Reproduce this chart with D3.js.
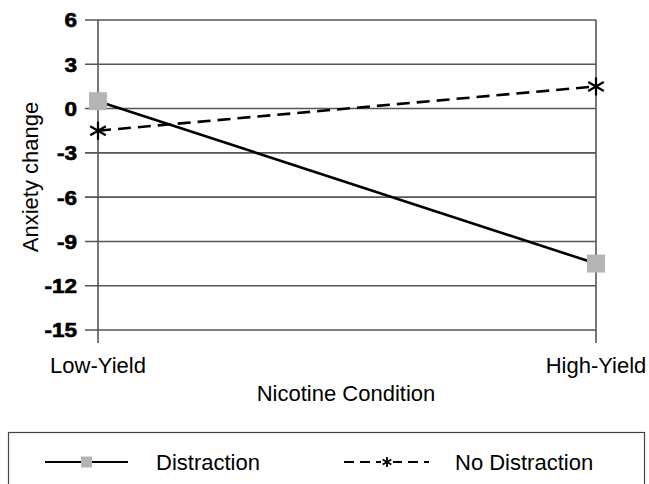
<!DOCTYPE html>
<html lang="en">
<head>
    <meta charset="UTF-8">
    <title>Anxiety change</title>
    <style>
        body {
            margin: 0;
            padding: 0;
            background-color: white;
            font-family: Arial, "Liberation Sans", sans-serif;
        }
        .grid line {
            stroke: #555;
            stroke-width: 1.6px;
        }
    </style>
</head>
<body>
    <div id="container"></div>

    <script src="https://d3js.org/d3.v7.min.js"></script>
    <script>
        // Data
        const categories = ["Low-Yield", "High-Yield"];
        const distraction = [0.5, -10.5];
        const noDistraction = [-1.5, 1.5];
        const yTicks = [6, 3, 0, -3, -6, -9, -12, -15];

        const width = 649;
        const height = 484;

        const svg = d3.select("#container")
            .append("svg")
            .attr("width", width)
            .attr("height", height)
            .style("background-color", "white");

        const x = d3.scalePoint()
            .domain(categories)
            .range([98, 596]);

        const y = d3.scaleLinear()
            .domain([-15, 6])
            .range([330, 20]);

        // Horizontal gridlines
        svg.append("g")
            .attr("class", "grid")
            .selectAll("line")
            .data(yTicks)
            .enter()
            .append("line")
            .attr("x1", 85)
            .attr("x2", x(categories[1]))
            .attr("y1", d => y(d))
            .attr("y2", d => y(d));

        // Vertical lines at category positions
        svg.append("g")
            .attr("class", "grid")
            .selectAll("line")
            .data(categories)
            .enter()
            .append("line")
            .attr("x1", d => x(d))
            .attr("x2", d => x(d))
            .attr("y1", y(6))
            .attr("y2", y(-15) + 13);

        // Y tick labels (the original font is wide and heavy)
        svg.append("g")
            .selectAll("text")
            .data(yTicks)
            .enter()
            .append("text")
            .attr("transform", d => `translate(77,${y(d)}) scale(1.1,1)`)
            .attr("dy", "0.36em")
            .attr("text-anchor", "end")
            .style("font-weight", "bold")
            .style("font-size", "20.5px")
            .style("stroke", "black")
            .style("stroke-width", "0.6px")
            .text(d => d);

        // Category labels
        svg.append("g")
            .selectAll("text")
            .data(categories)
            .enter()
            .append("text")
            .attr("x", d => x(d))
            .attr("y", 373)
            .attr("text-anchor", "middle")
            .style("font-size", "22px")
            .text(d => d);

        // Axis titles
        svg.append("text")
            .attr("x", 346)
            .attr("y", 401)
            .attr("text-anchor", "middle")
            .style("font-size", "22px")
            .text("Nicotine Condition");

        svg.append("text")
            .attr("transform", "translate(38,177) rotate(-90)")
            .attr("text-anchor", "middle")
            .style("font-size", "22px")
            .text("Anxiety change");

        const line = d3.line()
            .x((d, i) => x(categories[i]))
            .y(d => y(d));

        // Distraction series
        svg.append("path")
            .datum(distraction)
            .attr("d", line)
            .attr("fill", "none")
            .attr("stroke", "black")
            .attr("stroke-width", 2.6);

        // No Distraction series
        svg.append("path")
            .datum(noDistraction)
            .attr("d", line)
            .attr("fill", "none")
            .attr("stroke", "black")
            .attr("stroke-width", 2.6)
            .attr("stroke-dasharray", "13,7");

        function square(g, cx, cy, s) {
            g.append("rect")
                .attr("x", cx - s / 2)
                .attr("y", cy - s / 2)
                .attr("width", s)
                .attr("height", s)
                .attr("fill", "#b4b4b4");
        }

        function star(g, cx, cy, r, w) {
            const p = d3.path();
            p.moveTo(cx, cy - r); p.lineTo(cx, cy + r);
            const dx = r * Math.cos(Math.PI / 6), dy = r * Math.sin(Math.PI / 6);
            p.moveTo(cx - dx, cy - dy); p.lineTo(cx + dx, cy + dy);
            p.moveTo(cx - dx, cy + dy); p.lineTo(cx + dx, cy - dy);
            g.append("path")
                .attr("d", p.toString())
                .attr("stroke", "black")
                .attr("stroke-width", w)
                .attr("fill", "none");
        }

        const markers = svg.append("g");
        distraction.forEach((v, i) => square(markers, x(categories[i]), y(v), 18));
        noDistraction.forEach((v, i) => star(markers, x(categories[i]), y(v), 9, 2.2));

        // Legend
        const legend = svg.append("g");
        legend.append("rect")
            .attr("x", 8.5)
            .attr("y", 432.5)
            .attr("width", 636)
            .attr("height", 70)
            .attr("fill", "white")
            .attr("stroke", "#444")
            .attr("stroke-width", 1.2);

        const ly = 462;
        legend.append("line")
            .attr("x1", 45).attr("x2", 128)
            .attr("y1", ly).attr("y2", ly)
            .attr("stroke", "black").attr("stroke-width", 2);
        square(legend, 86.5, ly, 11);
        legend.append("text")
            .attr("x", 156).attr("y", ly).attr("dy", "0.36em")
            .style("font-size", "22px")
            .text("Distraction");

        legend.append("line")
            .attr("x1", 344).attr("x2", 429)
            .attr("y1", ly).attr("y2", ly)
            .attr("stroke", "black").attr("stroke-width", 2)
            .attr("stroke-dasharray", "10,6");
        legend.append("rect")
            .attr("x", 381).attr("y", ly - 6).attr("width", 12).attr("height", 12)
            .attr("fill", "white");
        star(legend, 387, ly, 5, 1.8);
        legend.append("text")
            .attr("x", 455).attr("y", ly).attr("dy", "0.36em")
            .style("font-size", "22px")
            .text("No Distraction");
    </script>
</body>
</html>
